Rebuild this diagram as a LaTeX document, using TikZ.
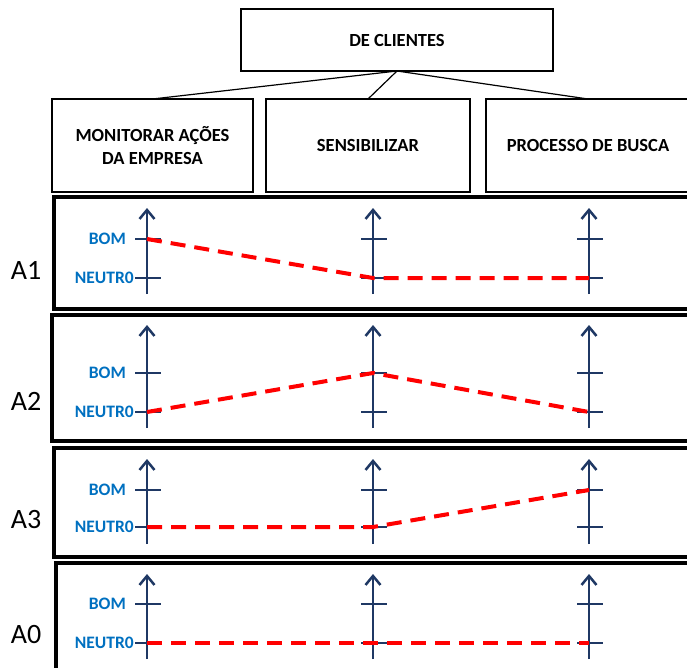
\documentclass[tikz,border=0pt]{standalone}
\usepackage{fontspec}
\setmainfont{Carlito}
\usetikzlibrary{arrows.meta}

\definecolor{axisblue}{RGB}{31,56,100}
\definecolor{labelblue}{RGB}{0,112,192}
\definecolor{trendred}{RGB}{255,0,0}

\def\cols{{1/147}, {2/373}, {3/589}}
\def\rows{{A1/197/309/54/208/239/278/294/270/bom/neu/neu}, {A2/315/441/52/325/373/412/428/401/neu/bom/neu}, {A3/448/557/54/459/490/527/544/519/neu/neu/bom}, {A0/563/690/56/574/604/643/659/634/neu/neu/neu}}

\tikzstyle{header}=[draw, line width=2.2pt, align=center, inner sep=0pt, outer sep=0pt, font=\fontsize{18.5}{23}\selectfont\bfseries]
\tikzstyle{link}=[draw, line width=1.2pt]
\tikzstyle{panel}=[draw, line width=3.5pt]
\tikzstyle{rowname}=[inner sep=0pt, font=\fontsize{28}{28}\selectfont]
\tikzstyle{levelname}=[text=labelblue, inner sep=0pt, anchor=east, font=\fontsize{17.5}{18}\selectfont\bfseries]
\tikzstyle{valueaxis}=[draw, axisblue, line width=2.5pt, -{Straight Barb[length=9pt,width=15pt]}]
\tikzstyle{levtick}=[draw, axisblue, line width=2.5pt]
\tikzstyle{trend}=[draw, trendred, line width=4pt, dash pattern=on 15pt off 9pt]

\begin{document}
\begin{tikzpicture}[x=1pt, y=-1pt]
  \useasboundingbox (0,0) rectangle (687,667);

  \node[header, minimum width=312pt, minimum height=62pt] (clientes) at (397,40) {DE CLIENTES};
  \node[header, minimum width=201pt, minimum height=93pt] (monitor) at (152.5,145.5) {MONITORAR AÇÕES\\DA EMPRESA};
  \node[header, minimum width=204pt, minimum height=93pt] (sensib) at (368,145.5) {SENSIBILIZAR};
  \node[header, minimum width=204pt, minimum height=93pt] (busca) at (588,145.5) {PROCESSO DE BUSCA};

  \foreach \sink in {monitor, sensib, busca} {
    \path[link] (clientes.south) -- (\sink.north);
  }

  \foreach \row/\top/\bot/\left/\hi/\bom/\neu/\lo/\mid/\pa/\pb/\pc in \rows {
    \draw[panel] (\left,\top) rectangle (705,\bot);
    \node[rowname] (name-\row) at (26,\mid) {\row};
    \node[levelname] (bom-\row) at (126,\bom) {BOM};
    \node[levelname] (neu-\row) at (134,\neu) {NEUTR0};
    \foreach \c/\x in \cols {
      \coordinate (\row-\c-hi) at (\x,\hi);
      \coordinate (\row-\c-lo) at (\x,\lo);
      \coordinate (\row-\c-bom) at (\x,\bom);
      \coordinate (\row-\c-neu) at (\x,\neu);
      \path[valueaxis] (\row-\c-lo) -- (\row-\c-hi);
      \path[levtick] ([xshift=-12pt]\row-\c-bom) -- ([xshift=14pt]\row-\c-bom);
      \path[levtick] ([xshift=-12pt]\row-\c-neu) -- ([xshift=14pt]\row-\c-neu);
    }
    \path[trend] (\row-1-\pa) -- (\row-2-\pb) -- (\row-3-\pc);
  }
\end{tikzpicture}
\end{document}
